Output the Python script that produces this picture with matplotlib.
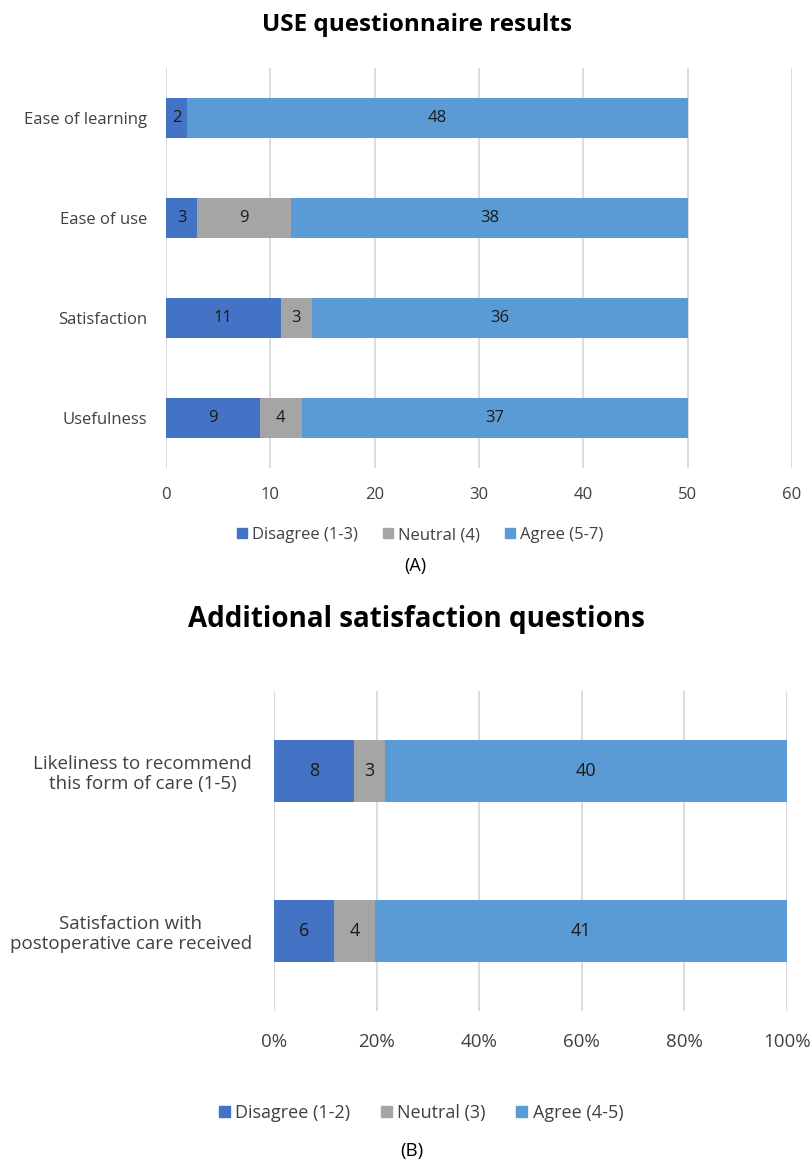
import matplotlib
matplotlib.use("Agg")
import matplotlib.pyplot as plt
from matplotlib.patches import Patch
import numpy as np

# Panel A: USE questionnaire
use_categories = ["Ease of learning", "Ease of use", "Satisfaction", "Usefulness"]
use_disagree = [2, 3, 11, 9]
use_neutral = [0, 9, 3, 4]
use_agree = [48, 38, 36, 37]
use_ticks = [0, 10, 20, 30, 40, 50, 60]
use_legend = ["Disagree (1-3)", "Neutral (4)", "Agree (5-7)"]

# Panel B: additional satisfaction questions (counts, shown as shares)
add_categories = ["Likeliness to recommend\nthis form of care (1-5)",
                  "Satisfaction with\npostoperative care received"]
add_disagree = [8, 6]
add_neutral = [3, 4]
add_agree = [40, 41]
add_ticks = [0, 20, 40, 60, 80, 100]
add_legend = ["Disagree (1-2)", "Neutral (3)", "Agree (4-5)"]

C_DIS = "#4472C4"
C_NEU = "#A5A5A5"
C_AGR = "#5B9BD5"
GRID = "#D9D9D9"
TXT = "#404040"

W, H = 811, 1165
fig = plt.figure(figsize=(W / 100, H / 100), dpi=100)

FONT = ["Open Sans", "DejaVu Sans"]


def axes_px(x0, x1, y0, y1):
    return fig.add_axes([x0 / W, 1 - y1 / H, (x1 - x0) / W, (y1 - y0) / H])


def style(ax):
    for s in ax.spines.values():
        s.set_visible(False)
    ax.tick_params(length=0)
    ax.xaxis.grid(True, color=GRID, linewidth=1.3)
    ax.set_axisbelow(True)


# ---- Panel A ----
ax1 = axes_px(166, 792, 68, 468)
style(ax1)
y1 = np.arange(len(use_categories))
segs = [(use_disagree, C_DIS), (use_neutral, C_NEU), (use_agree, C_AGR)]
left = np.zeros(len(use_categories))
for vals, col in segs:
    vals = np.array(vals, dtype=float)
    ax1.barh(y1, vals, left=left, height=0.4, color=col, zorder=2)
    for yi, (l, v) in enumerate(zip(left, vals)):
        if v > 0:
            ax1.text(l + v / 2, yi, f"{int(v)}", ha="center", va="center",
                     fontsize=12, color="#1a1a1a", family=FONT, zorder=3)
    left += vals
ax1.set_ylim(len(use_categories) - 0.5, -0.5)
ax1.set_xlim(0, 60)
ax1.set_xticks(use_ticks)
ax1.set_yticks(y1)
ax1.set_yticklabels(use_categories, family=FONT, fontsize=12, color=TXT)
ax1.set_xticklabels([str(t) for t in use_ticks], family=FONT, fontsize=12, color=TXT)
ax1.tick_params(axis="x", pad=14)
ax1.tick_params(axis="y", pad=13.5)

fig.text(417 / W, 1 - 25 / H, "USE questionnaire results", ha="center", va="center",
         fontsize=17.5, fontweight="bold", family=FONT, color="black")
handles1 = [Patch(color=c) for c in (C_DIS, C_NEU, C_AGR)]
fig.legend(handles1, use_legend, loc="center", bbox_to_anchor=(420 / W, 1 - 535 / H),
           ncol=3, frameon=False, handlelength=0.6, handleheight=0.6, handletextpad=0.3,
           columnspacing=1.5, prop={"family": FONT, "size": 12}, labelcolor=TXT)
fig.text(415 / W, 1 - 566 / H, "(A)", ha="center", va="center", fontsize=13,
         family=FONT, color="black")

# ---- Panel B ----
ax2 = axes_px(274, 787, 691, 1011)
style(ax2)
y2 = np.arange(len(add_categories))
totals = np.array(add_disagree) + np.array(add_neutral) + np.array(add_agree)
segs2 = [(add_disagree, C_DIS), (add_neutral, C_NEU), (add_agree, C_AGR)]
left = np.zeros(len(add_categories))
for vals, col in segs2:
    cnt = np.array(vals, dtype=float)
    share = cnt / totals * 100
    ax2.barh(y2, share, left=left, height=0.39, color=col, zorder=2)
    for yi, (l, s, c) in enumerate(zip(left, share, cnt)):
        ax2.text(l + s / 2, yi, f"{int(c)}", ha="center", va="center",
                 fontsize=13, color="#1a1a1a", family=FONT, zorder=3)
    left += share
ax2.set_ylim(len(add_categories) - 0.5, -0.5)
ax2.set_xlim(0, 100)
ax2.set_xticks(add_ticks)
ax2.set_xticklabels([f"{t}%" for t in add_ticks], family=FONT, fontsize=13.5, color=TXT)
ax2.set_yticks(y2)
ax2.set_yticklabels(add_categories, family=FONT, fontsize=13.5, color=TXT,
                    multialignment="center", linespacing=1.15)
ax2.tick_params(axis="x", pad=16)
ax2.tick_params(axis="y", pad=16)

fig.text(416 / W, 1 - 620 / H, "Additional satisfaction questions", ha="center",
         va="center", fontsize=20, fontweight="bold", family=FONT, color="black")
handles2 = [Patch(color=c) for c in (C_DIS, C_NEU, C_AGR)]
fig.legend(handles2, add_legend, loc="center", bbox_to_anchor=(421 / W, 1 - 1113 / H),
           ncol=3, frameon=False, handlelength=0.6, handleheight=0.6, handletextpad=0.3,
           columnspacing=1.7, prop={"family": FONT, "size": 13}, labelcolor=TXT)
fig.text(412 / W, 1 - 1151 / H, "(B)", ha="center", va="center", fontsize=13.5,
         family=FONT, color="black")

fig.savefig("out.png", dpi=100, facecolor="white")
